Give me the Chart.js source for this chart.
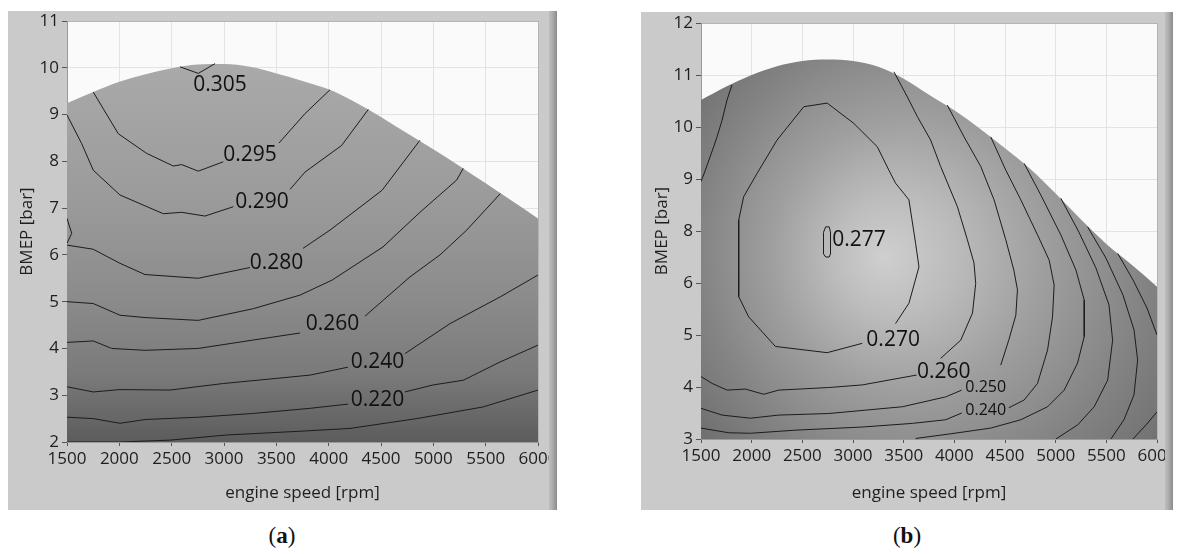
<!DOCTYPE html>
<html>
<head>
<meta charset="utf-8">
<title>BSFC contour maps</title>
<script src="https://cdn.jsdelivr.net/npm/chart.js@4.4.1/dist/chart.umd.min.js"></script>
<style>
  body { margin: 0; background: #fff; width: 1177px; height: 554px; position: relative; overflow: hidden; }
  .frame { position: absolute; }
  .cap { position: absolute; top: 521px; font: 23px "Liberation Serif", serif; color: #111; transform: translateX(-50%); line-height: 30px; }
</style>
</head>
<body>
<div class="frame" style="left:8px;top:11px;width:549px;height:499px"><canvas id="chartA"></canvas></div>
<div class="frame" style="left:641px;top:12px;width:532px;height:498px"><canvas id="chartB"></canvas></div>
<div class="cap" style="left:282px">(<b>a</b>)</div>
<div class="cap" style="left:907px">(<b>b</b>)</div>
<script>
// ---- data (engine speed rpm, BMEP bar) ----
const xTicks = [1500, 2000, 2500, 3000, 3500, 4000, 4500, 5000, 5500, 6000];
const yTicksA = [2, 3, 4, 5, 6, 7, 8, 9, 10, 11];
const yTicksB = [3, 4, 5, 6, 8, 9, 10, 11, 12]; // as printed on panel (b), 7 is missing

const edgeRpm = [1500, 1750, 2000, 2250, 2500, 2750, 3000, 3250, 3500, 3750, 4000, 4250, 4500, 4750, 5000, 5250, 5500, 5750, 6000];
const edgeA = [9.24, 9.48, 9.70, 9.86, 9.99, 10.07, 10.08, 10.02, 9.88, 9.72, 9.54, 9.27, 8.95, 8.60, 8.26, 7.90, 7.53, 7.16, 6.78];
const edgeB = [10.52, 10.78, 11.0, 11.17, 11.27, 11.30, 11.27, 11.16, 10.93, 10.62, 10.32, 9.97, 9.59, 9.19, 8.72, 8.22, 7.50, 6.70, 5.93];

// panel (a) contour lines, null = gap for the label
const a305 = [[2580, 10.02], [2755, 9.88], [2915, 10.09]];
const a295 = [[1751, 9.48], [1990, 8.59], [2261, 8.17], [2516, 7.90], [2596, 7.93], [2754, 7.79], [2993, 7.99], null, [3525, 8.39], [3774, 9.02], [4013, 9.53]];
const a290 = [[1500, 8.99], [1640, 8.38], [1751, 7.81], [2006, 7.28], [2420, 6.88], [2596, 6.91], [2818, 6.83], [3089, 7.03], null, [3631, 7.40], [3774, 7.77], [4124, 8.34], [4379, 9.11]];
const a280 = [[1500, 6.21], [1751, 6.12], [2006, 5.82], [2245, 5.58], [2754, 5.50], [3248, 5.73], null, [3755, 6.14], [4013, 6.53], [4510, 7.38], [4872, 8.45]];
const a280s = [[1500, 6.78], [1545, 6.46], [1500, 6.25]];
const a270 = [[1500, 5.00], [1751, 4.96], [2006, 4.71], [2245, 4.66], [2754, 4.60], [3280, 4.85], [3726, 5.14], [4032, 5.46], [4519, 6.17], [4872, 6.91], [5223, 7.60], [5286, 7.85]];
const a260 = [[1500, 4.13], [1751, 4.16], [1927, 4.00], [2245, 3.96], [2754, 4.00], [3280, 4.18], [3726, 4.33], null, [4347, 4.69], [4777, 5.53], [5064, 6.00], [5319, 6.53], [5640, 7.31]];
const a240 = [[1500, 3.18], [1751, 3.07], [2006, 3.12], [2484, 3.11], [2993, 3.25], [3503, 3.36], [3822, 3.43], [4185, 3.60], null, [4729, 3.89], [5159, 4.53], [5637, 5.10], [6000, 5.57]];
const a220 = [[1500, 2.53], [1751, 2.50], [2006, 2.40], [2245, 2.48], [2754, 2.53], [3280, 2.61], [3822, 2.72], [4185, 2.81], null, [4729, 3.07], [4999, 3.22], [5286, 3.32], [5637, 3.71], [6000, 4.07]];
const a200 = [[1500, 2.00], [2006, 2.00], [2484, 2.04], [3026, 2.15], [3726, 2.23], [4204, 2.29], [4841, 2.50], [5477, 2.75], [6000, 3.11]];
const linesA = [a305, a295, a290, a280, a280s, a270, a260, a240, a220, a200];

const labA = ['0.305', '0.295', '0.290', '0.280', '0.260', '0.240', '0.220'];
const labAx = [2962, 3248, 3363, 3502, 4037, 4467, 4467];
const labAy = [9.63, 8.13, 7.13, 5.83, 4.52, 3.71, 2.90];

// panel (b) contour lines (BMEP)
const bLeft = [[1806, 10.81], [1757, 10.52], [1708, 10.13], [1658, 9.81], [1625, 9.62], [1543, 9.17], [1500, 8.95]];
const b277 = [[2730, 8.08], [2765, 8.08], [2778, 7.95], [2778, 7.12], [2765, 7.0], [2730, 7.0], [2709, 7.12], [2709, 7.95], [2730, 8.08]];
const b270 = [[3420, 5.22], [3552, 5.61], [3651, 6.62], [3618, 7.52], [3552, 8.60], [3420, 8.92], [3354, 9.17], [3240, 9.62], [3008, 10.07], [2745, 10.46], [2514, 10.39], [2251, 9.75], [2054, 9.11], [1921, 8.66], [1872, 8.21], [1872, 5.74], [1970, 5.35], [2234, 4.78], [2745, 4.66], [3091, 4.84]];
const b260 = [[1500, 4.20], [1609, 4.07], [1757, 3.94], [1938, 3.96], [2119, 3.86], [2267, 3.94], [2761, 3.99], [3091, 4.04], [3628, 4.23], null, [3865, 4.55], [4063, 4.90], [4179, 5.42], [4211, 5.99], [4194, 6.77], [4129, 7.66], [4030, 8.47], [3865, 9.24], [3766, 9.75], [3635, 10.20], [3536, 10.58], [3404, 11.06]];
const b250 = [[1500, 3.59], [1708, 3.46], [1987, 3.40], [2267, 3.46], [2761, 3.49], [3487, 3.62], [3915, 3.81], [4073, 3.94], null, [4458, 4.42], [4537, 4.90], [4607, 5.38], [4623, 5.87], [4587, 6.50], [4508, 7.66], [4392, 8.60], [4261, 9.24], [4096, 9.81], [3931, 10.42]];
const b240 = [[1500, 3.21], [1773, 3.12], [1987, 3.11], [2432, 3.17], [3091, 3.23], [3585, 3.30], [3915, 3.37], [4073, 3.50], null, [4537, 3.60], [4689, 3.75], [4821, 4.07], [4920, 4.71], [4969, 5.35], [4985, 5.96], [4936, 6.88], [4821, 7.85], [4656, 8.60], [4508, 9.17], [4359, 9.81]];
const b230 = [[4689, 9.30], [4854, 8.69], [5051, 7.85], [5200, 6.50], [5282, 5.67], [5282, 4.97], [5216, 4.46], [5084, 3.94], [4920, 3.62], [4656, 3.37], [4359, 3.21], [3964, 3.10], [3618, 3.01]];
const b220 = [[5051, 8.63], [5229, 7.96], [5397, 6.58], [5526, 5.58], [5562, 4.90], [5513, 4.13], [5380, 3.62], [5216, 3.27], [5002, 3.0]];
const b210 = [[5315, 8.08], [5496, 6.96], [5664, 5.77], [5773, 5.10], [5809, 4.52], [5773, 3.85], [5674, 3.37], [5545, 3.0]];
const b200 = [[5612, 7.14], [5763, 6.12], [5901, 5.52], [6000, 5.0]];
const b190 = [[6000, 3.52], [5891, 3.27], [5763, 3.0]];
const linesB = [bLeft, b277, b270, b260, b250, b240, b230, b220, b210, b200, b190];

const labB = ['0.277', '0.270', '0.260', '0.250', '0.240'];
const labBx = [3060, 3396, 3895, 4310, 4310];
const labBy = [7.65, 4.90, 4.29, 4.00, 3.54];

// ---- helpers ----
Chart.defaults.font.family = '"Open Sans", "Noto Sans", sans-serif';
Chart.defaults.color = '#1e1e1e';

const same = v => v;
// panel (b) axis: printed labels are evenly spaced, so map a value to its slot
function slotB(v) {
  for (let i = 0; i < yTicksB.length - 1; i++) {
    if (v <= yTicksB[i + 1] || i === yTicksB.length - 2) {
      return i + (v - yTicksB[i]) / (yTicksB[i + 1] - yTicksB[i]);
    }
  }
}

function toPts(arr, fy) {
  return arr.map(p => p ? {x: p[0], y: fy(p[1])} : {x: null, y: null});
}

const framePlugin = {
  id: 'frame',
  beforeDraw(chart) {
    const {ctx, chartArea: a, width, height} = chart;
    ctx.save();
    ctx.fillStyle = '#cacaca';
    ctx.fillRect(0, 0, width, height);
    ctx.fillStyle = '#fafafa';
    ctx.fillRect(a.left, a.top, a.right - a.left, a.bottom - a.top);
    ctx.restore();
  },
  afterDraw(chart) {
    // the dark edge bar on the right of each LabVIEW frame
    const {ctx, width, height} = chart;
    ctx.save();
    const g = ctx.createLinearGradient(width - 8, 0, width, 0);
    g.addColorStop(0, '#bdbdbd');
    g.addColorStop(0.4, '#afafaf');
    g.addColorStop(1, '#8a8a8a');
    ctx.fillStyle = g;
    ctx.fillRect(width - 8, 0, 8, height);
    ctx.restore();
  }
};

function labelPlugin(texts, xs, ys, fy, small) {
  return {
    id: 'contourLabels',
    afterDatasetsDraw(chart) {
      const {ctx, scales} = chart;
      ctx.save();
      ctx.fillStyle = '#111';
      ctx.textAlign = 'center';
      ctx.textBaseline = 'middle';
      texts.forEach((t, i) => {
        const sz = small.includes(t) ? 16 : 21;
        ctx.font = sz + 'px "Open Sans", "Noto Sans", sans-serif';
        ctx.fillText(t, scales.x.getPixelForValue(xs[i]), scales.y.getPixelForValue(fy(ys[i])));
      });
      ctx.restore();
    }
  };
}

function makeChart(id, o) {
  const datasets = o.lines.map(l => ({
    data: toPts(l, o.fy),
    borderColor: '#1c1c1c',
    borderWidth: 1,
    pointRadius: 0,
    tension: 0,
    fill: false,
    spanGaps: false,
    order: 0
  }));
  datasets.push({
    data: edgeRpm.map((r, i) => ({x: r, y: o.fy(o.edge[i])})),
    borderWidth: 0,
    pointRadius: 0,
    cubicInterpolationMode: 'monotone',
    fill: 'start',
    backgroundColor: o.shade,
    order: 1
  });
  const gridCol = max => c => (c.tick && c.tick.value === max) ? '#b4b4b4' : '#e3e3e3';
  return new Chart(document.getElementById(id), {
    type: 'line',
    data: {datasets},
    options: {
      responsive: true,
      maintainAspectRatio: false,
      animation: false,
      events: [],
      layout: {padding: o.pad},
      plugins: {legend: {display: false}, tooltip: {enabled: false}},
      scales: {
        x: {
          type: 'linear', min: xTicks[0], max: xTicks[xTicks.length - 1],
          afterBuildTicks: s => { s.ticks = xTicks.map(v => ({value: v})); },
          ticks: {autoSkip: false, maxRotation: 0, padding: 3, font: {size: 17}, color: '#1e1e1e', callback: v => String(v)},
          grid: {color: gridCol(6000), tickColor: '#555', tickLength: 4},
          border: {color: '#9a9a9a'},
          title: {display: true, text: 'engine speed [rpm]', font: {size: 17}, color: '#1e1e1e', padding: {top: 0, bottom: 7}},
          afterFit: s => { s.height = o.xh; s.paddingLeft = 0; s.paddingRight = 0; }
        },
        y: {
          type: 'linear', min: o.ymin, max: o.ymax,
          afterBuildTicks: s => { s.ticks = o.yvals.map(v => ({value: v})); },
          ticks: {padding: 3, font: {size: 17}, color: '#1e1e1e', callback: o.ylab},
          grid: {color: gridCol(o.ymax), tickColor: '#555', tickLength: 5},
          border: {color: '#9a9a9a'},
          title: {display: true, text: 'BMEP [bar]', font: {size: 17}, color: '#1e1e1e', padding: {top: o.ytp, bottom: 0}},
          afterFit: s => { s.width = o.yw; s.paddingTop = 0; s.paddingBottom = 0; }
        }
      }
    },
    plugins: [framePlugin, labelPlugin(o.texts, o.lx, o.ly, o.fy, o.small)]
  });
}

makeChart('chartA', {
  lines: linesA, edge: edgeA, fy: same,
  ymin: 2, ymax: 11, yvals: yTicksA, ylab: v => v,
  yw: 59, xh: 68, ytp: 9,
  pad: {left: 0, top: 10, right: 19, bottom: 0},
  texts: labA, lx: labAx, ly: labAy, small: [],
  shade(c) {
    const ch = c.chart;
    if (!ch.chartArea) return '#909090';
    const ys = ch.scales.y;
    const g = ch.ctx.createLinearGradient(0, ys.getPixelForValue(10), 0, ys.getPixelForValue(2));
    g.addColorStop(0, '#a9a9a9');
    g.addColorStop(0.35, '#9b9b9b');
    g.addColorStop(0.62, '#8b8b8b');
    g.addColorStop(0.82, '#7a7a7a');
    g.addColorStop(1, '#5c5c5c');
    return g;
  }
});

makeChart('chartB', {
  lines: linesB, edge: edgeB, fy: slotB,
  ymin: 0, ymax: 8, yvals: [0, 1, 2, 3, 4, 5, 6, 7, 8], ylab: v => yTicksB[v],
  yw: 60, xh: 71, ytp: 11,
  pad: {left: 0, top: 11, right: 16, bottom: 0},
  texts: labB, lx: labBx, ly: labBy, small: ['0.250', '0.240'],
  shade(c) {
    const ch = c.chart;
    if (!ch.chartArea) return '#a0a0a0';
    const xs = ch.scales.x, ys = ch.scales.y;
    const cx = xs.getPixelForValue(3290), cy = ys.getPixelForValue(slotB(7.0));
    const g = ch.ctx.createRadialGradient(cx, cy, 0, cx + 55, cy - 5, 300);
    g.addColorStop(0, '#cfcfcf');
    g.addColorStop(0.2, '#bcbcbc');
    g.addColorStop(0.45, '#9f9f9f');
    g.addColorStop(0.75, '#838383');
    g.addColorStop(1, '#6f6f6f');
    return g;
  }
});
</script>
</body>
</html>
